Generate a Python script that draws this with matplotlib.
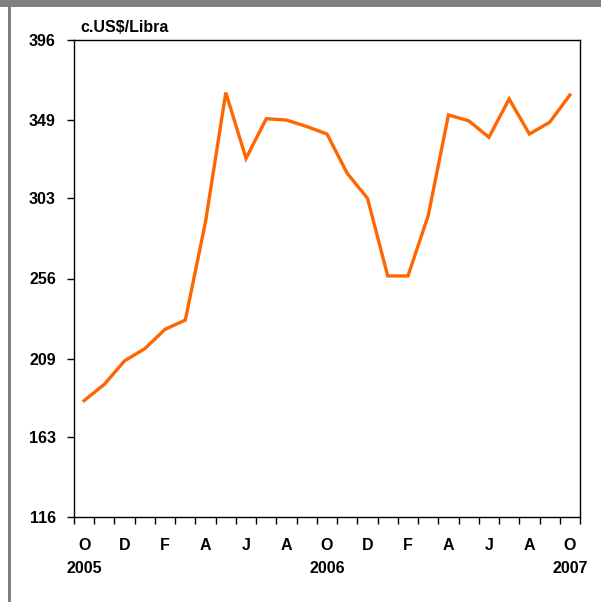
import matplotlib
matplotlib.use("Agg")
import matplotlib.pyplot as plt
from matplotlib.patches import Rectangle

months = ["O", "N", "D", "E", "F", "M", "A", "M", "J", "J", "A", "S",
          "O", "N", "D", "E", "F", "M", "A", "M", "J", "J", "A", "S", "O"]
prices = [184.3, 193.9, 207.7, 214.8, 226.2, 231.6, 289.4, 365.1, 326.5, 349.8,
          349.0, 345.2, 340.8, 317.7, 303.1, 257.5, 257.5, 292.9, 352.0, 348.6,
          338.9, 361.4, 340.8, 347.7, 363.7]
year_labels = {0: "2005", 12: "2006", 24: "2007"}
yticks = [116, 163, 209, 256, 303, 349, 396]
unit_label = "c.US$/Libra"

plt.rcParams['font.family'] = ['Liberation Sans', 'DejaVu Sans']

W, H = 601, 602
fig = plt.figure(figsize=(W / 100, H / 100), dpi=100)

# decorative gray frame (top band and left line)
fig.add_artist(Rectangle((0, 1 - 7 / H), 1, 7 / H, transform=fig.transFigure,
                         color="#808080", lw=0))
fig.add_artist(Rectangle((8 / W, 0), 3 / W, 1, transform=fig.transFigure,
                         color="#808080", lw=0))

left, right, top, bottom = 74, 580, 40, 517
ax = fig.add_axes([left / W, 1 - bottom / H, (right - left) / W, (bottom - top) / H])

n = len(prices)
xs = [i + 0.5 for i in range(n)]
ax.plot(xs, prices, color="#FF6600", lw=2.4, solid_joinstyle="miter")

fs = 11.5
ax.set_xlim(0, n)
ax.set_ylim(yticks[0], yticks[-1])
ax.set_yticks(yticks)
ax.set_yticklabels([str(v) for v in yticks], fontsize=fs, fontweight="bold")
ax.set_xticks(range(n + 1))
ax.set_xticklabels([])
ax.tick_params(axis="x", direction="out", length=5, width=1)
ax.tick_params(axis="y", direction="out", length=5, width=1, pad=8)
for s in ax.spines.values():
    s.set_linewidth(1)
    s.set_color("black")

for i in range(0, n, 2):
    ax.text(xs[i], -0.059, months[i], transform=ax.get_xaxis_transform(),
            ha="center", va="center", fontsize=fs, fontweight="bold")
for i, yl in year_labels.items():
    ax.text(xs[i], -0.109, yl, transform=ax.get_xaxis_transform(),
            ha="center", va="center", fontsize=fs, fontweight="bold")

fig.text(80 / W, 1 - 28 / H, unit_label, ha="left", va="center",
         fontsize=fs, fontweight="bold")

fig.savefig("out.png", dpi=100)
